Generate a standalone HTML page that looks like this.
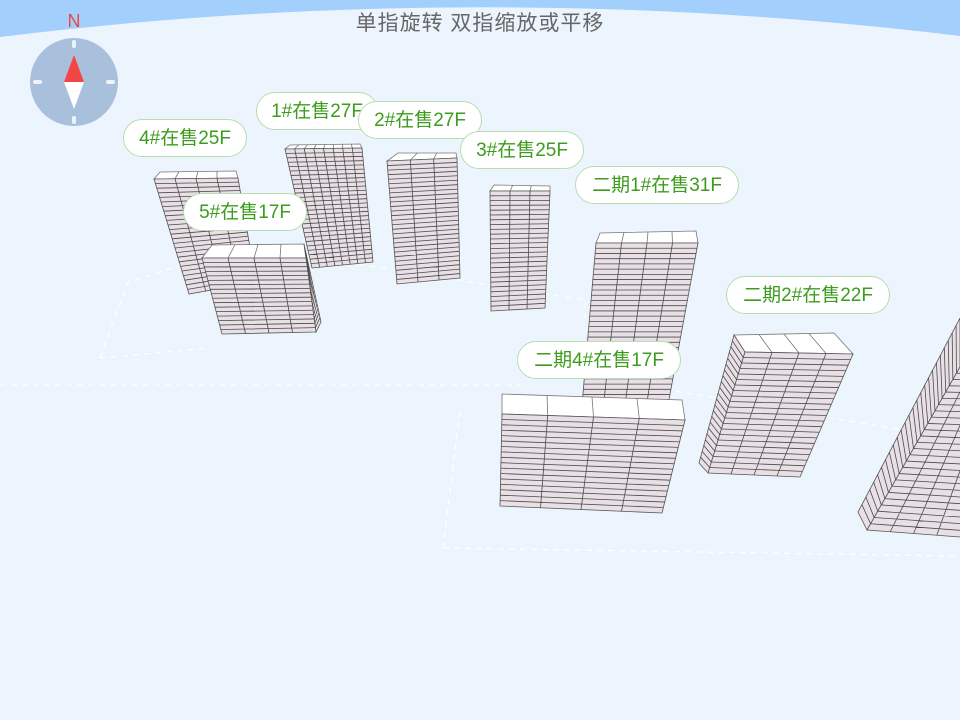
<!DOCTYPE html>
<html><head><meta charset="utf-8"><style>
html,body{margin:0;padding:0}
body{width:960px;height:720px;overflow:hidden;background:#ecf5fe;position:relative;font-family:"Liberation Sans","Noto Sans CJK SC",sans-serif}
.t{position:absolute;top:7px;left:0;width:960px;text-align:center;font-size:21px;color:#666;letter-spacing:1px}
.l{position:absolute;height:38px;line-height:38px;background:#fff;border:1px solid #b8ddb0;border-radius:19px;color:#3c9c1c;font-size:19px;text-align:center;box-sizing:border-box}
svg{position:absolute;left:0;top:0}
</style></head><body>
<svg id="s" width="960" height="720" viewBox="0 0 960 720">
<path d="M0 0 H960 V36 Q480 -22 0 37 Z" fill="#a3cffc"/>
<g fill="none" stroke="#fff" stroke-width="1.3" stroke-dasharray="6 5" opacity="0.9">
<path d="M100 358 L128 282 L243 246 L585 300 L585 318"/>
<path d="M100 358 L210 348"/>
<path d="M443 548 L960 556"/>
<path d="M443 548 L460 410"/>
<path d="M600 378 L960 440"/>
<path d="M0 385 L520 385"/>
</g>
<circle cx="74" cy="82" r="44" fill="#a9c0dd"/>
<g stroke="#eef3fa" stroke-width="4" stroke-linecap="round">
<line x1="74" y1="42" x2="74" y2="46"/><line x1="74" y1="118" x2="74" y2="122"/>
<line x1="35" y1="82" x2="40" y2="82"/><line x1="108" y1="82" x2="113" y2="82"/>
</g>
<polygon points="74,55 64,82 84,82" fill="#f44545"/>
<polygon points="74,109 64,82 84,82" fill="#fff"/>
<text x="74" y="27" text-anchor="middle" font-size="18" fill="#f44545" font-family="Liberation Sans,sans-serif">N</text>
<g id="b"></g>
</svg>
<div class="t">单指旋转 双指缩放或平移</div>
<div class="l" style="left:123px;top:119px;width:124px">4#在售25F</div>
<div class="l" style="left:183px;top:193px;width:124px">5#在售17F</div>
<div class="l" style="left:256px;top:92px;width:122px">1#在售27F</div>
<div class="l" style="left:358px;top:101px;width:124px">2#在售27F</div>
<div class="l" style="left:460px;top:131px;width:124px">3#在售25F</div>
<div class="l" style="left:575px;top:166px;width:164px">二期1#在售31F</div>
<div class="l" style="left:726px;top:276px;width:164px">二期2#在售22F</div>
<div class="l" style="left:517px;top:341px;width:164px">二期4#在售17F</div>
<script>
(function(){
var g=document.getElementById('b'),NS='http://www.w3.org/2000/svg';
function el(t,a){var e=document.createElementNS(NS,t);for(var k in a)e.setAttribute(k,a[k]);g.appendChild(e);return e}
function P(a){return a.map(function(p){return p[0]+','+p[1]}).join(' ')}
function L(a,b,t){return [a[0]+(b[0]-a[0])*t,a[1]+(b[1]-a[1])*t]}
function face(q,fl,co){
 el('polygon',{points:P(q),fill:'#e9e0e6',stroke:'#555','stroke-width':0.8});
 var d='';
 for(var i=1;i<fl;i++){var a=L(q[0],q[3],i/fl),b=L(q[1],q[2],i/fl);d+='M'+a+'L'+b}
 for(var j=1;j<co;j++){var a=L(q[0],q[1],j/co),b=L(q[3],q[2],j/co);d+='M'+a+'L'+b}
 if(d)el('path',{d:d,stroke:'#4a4a4a','stroke-width':0.8,fill:'none'});
}
function roof(q,co){el('polygon',{points:P(q),fill:'#fff',stroke:'#777','stroke-width':0.8});
 var d='';for(var j=1;j<co;j++){var a=L(q[0],q[1],j/co),b=L(q[3],q[2],j/co);d+='M'+a+'L'+b}
 if(d)el('path',{d:d,stroke:'#777','stroke-width':0.8,fill:'none'});}
roof([[154,179],[238,178],[236,171],[160,172]],4);
face([[154,179],[238,178],[256,282],[189,294]],25,4);
roof([[285,149],[362,148],[360,144],[290,145]],8);
face([[285,149],[362,148],[373,262],[312,268]],27,8);
roof([[387,161],[457,158],[456,153],[398,153]],3);
face([[387,161],[457,158],[460,278],[397,284]],27,3);
roof([[490,191],[550,191],[550,186],[494,185]],3);
face([[490,191],[550,191],[545,308],[491,311]],25,3);
roof([[202,258],[306,258],[304,244],[212,245]],4);
face([[306,258],[304,244],[321,322],[316,332]],17,1);
face([[202,258],[306,258],[316,332],[222,334]],17,4);
roof([[596,243],[698,243],[696,231],[600,233]],4);
face([[596,243],[698,243],[668,405],[582,405]],31,4);
roof([[502,414],[685,420],[682,400],[502,394]],4);
face([[502,414],[685,420],[662,513],[500,506]],17,4);
roof([[745,352],[853,354],[834,333],[734,335]],4);
face([[734,335],[745,352],[708,473],[699,463]],22,1);
face([[745,352],[853,354],[800,477],[708,473]],22,4);
face([[960,318],[960,367],[867,530],[858,512]],26,1);
face([[960,367],[1010,367],[960,537],[867,530]],26,4);
})();
</script>
</body></html>
